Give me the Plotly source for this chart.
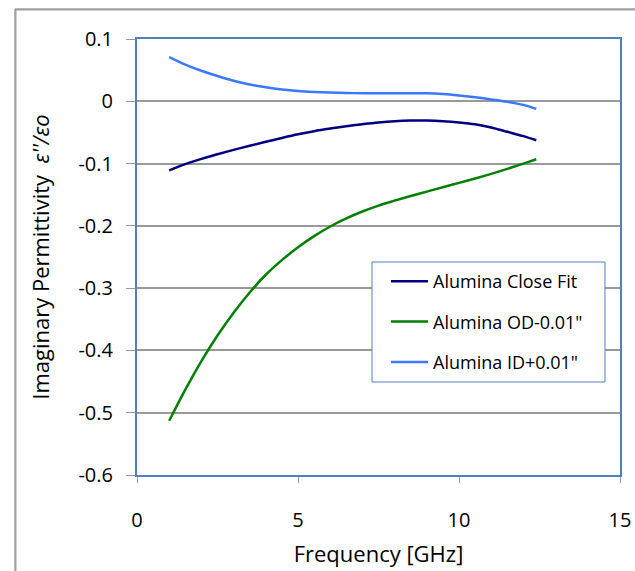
import plotly.graph_objects as go

freq = [1.0, 1.5, 2.0, 2.5, 3.0, 3.5, 4.0, 4.5, 5.0, 5.5, 6.0, 6.5, 7.0, 7.5,
        8.0, 8.5, 9.0, 9.5, 10.0, 10.5, 11.0, 11.5, 12.0, 12.4]

close_fit = [-0.111, -0.101, -0.0925, -0.085, -0.078, -0.0715, -0.065, -0.0588,
             -0.053, -0.048, -0.0438, -0.040, -0.0368, -0.034, -0.032, -0.031,
             -0.031, -0.032, -0.034, -0.037, -0.042, -0.049, -0.056, -0.0625]

od_minus = [-0.513, -0.463, -0.417, -0.376, -0.3395, -0.307, -0.2785, -0.255,
            -0.2345, -0.2165, -0.201, -0.188, -0.177, -0.1675, -0.1595, -0.152,
            -0.145, -0.138, -0.131, -0.124, -0.1165, -0.1085, -0.100, -0.093]

id_plus = [0.071, 0.059, 0.049, 0.0405, 0.033, 0.027, 0.0225, 0.019, 0.0165,
           0.015, 0.014, 0.0133, 0.013, 0.013, 0.013, 0.013, 0.0128, 0.0115,
           0.0092, 0.0063, 0.0030, -0.0008, -0.0058, -0.0122]

series_names = ["Alumina Close Fit", "Alumina OD-0.01\"", "Alumina ID+0.01\""]
series_colors = ["#000080", "#008000", "#3b78ff"]

x_ticks = [0, 5, 10, 15]
x_ticktext = ["0", "5", "10", "15"]
y_ticks = [0.1, 0.0, -0.1, -0.2, -0.3, -0.4, -0.5, -0.6]
y_ticktext = ["0.1", "0", "-0.1", "-0.2", "-0.3", "-0.4", "-0.5", "-0.6"]

FONT = "Open Sans, Liberation Sans, sans-serif"

fig = go.Figure()
for i, (vals, name, col) in enumerate(zip([close_fit, od_minus, id_plus], series_names, series_colors)):
    fig.add_trace(go.Scatter(x=freq, y=vals, mode="lines", name=name,
                             legendgroup=f"g{i}",
                             line=dict(color=col, width=2.5, shape="spline", smoothing=1)))

tick_font = dict(family=FONT, size=20, color="#000000")
title_font = dict(family=FONT, size=22, color="#000000")

# plot area in page pixels: left 137, right 620, top 39, bottom 475
def px_x(p):
    return (p - 137) / 483

def px_y(p):
    return (475 - p) / 436

fig.update_layout(
    width=635, height=571,
    margin=dict(l=137, r=15, t=39, b=96, autoexpand=False),
    paper_bgcolor="white", plot_bgcolor="white",
    showlegend=True,
    legend=dict(x=px_x(386), y=px_y(263), xanchor="left", yanchor="top",
                bgcolor="rgba(0,0,0,0)", borderwidth=0,
                itemwidth=37,
                font=dict(family=FONT, size=18, color="#000"),
                tracegroupgap=14),
    xaxis=dict(range=[0, 15], tickvals=x_ticks, ticktext=x_ticktext,
               automargin=False,
               showgrid=False, zeroline=False,
               showline=True, linecolor="#4f81bd", linewidth=2, mirror=True,
               ticks="outside", ticklen=6, tickcolor="#999999",
               ticklabelstandoff=20,
               tickfont=tick_font,
               title=dict(text="Frequency [GHz]", font=title_font, standoff=15)),
    yaxis=dict(range=[-0.6, 0.1], tickvals=y_ticks, ticktext=y_ticktext,
               automargin=False,
               showgrid=True, gridcolor="#9a9a9a", gridwidth=1.5, zeroline=False,
               showline=True, linecolor="#4f81bd", linewidth=2, mirror=True,
               ticks="outside", ticklen=9, tickcolor="#999999",
               ticklabelstandoff=9,
               tickfont=tick_font,
               title=dict(text="Imaginary Permittivity  <i>ε''/εo</i>", font=title_font, standoff=23)),
)

# outer chart border (left and top edges; the others fall outside the picture)
fig.add_shape(type="line", xref="paper", yref="paper",
              x0=px_x(15), x1=px_x(15), y0=px_y(571), y1=px_y(9),
              line=dict(color="#a0a0a0", width=1.5), layer="above")
fig.add_shape(type="line", xref="paper", yref="paper",
              x0=px_x(15), x1=px_x(635), y0=px_y(9), y1=px_y(9),
              line=dict(color="#a0a0a0", width=1.5), layer="above")
fig.add_annotation(xref="paper", yref="paper", x=px_x(15), y=px_y(9),
                   xanchor="left", yanchor="top", text=" ",
                   width=660, height=600, showarrow=False,
                   bordercolor="#a0a0a0", borderwidth=1.5, borderpad=0)

# legend box
fig.add_shape(type="rect", xref="paper", yref="paper",
              x0=px_x(372), x1=px_x(605), y0=px_y(382), y1=px_y(262),
              line=dict(color="#4f81bd", width=1), fillcolor="white", layer="above")

fig.write_html("out.html",
               config={"displayModeBar": False},
               post_script="document.body.style.margin='0';document.body.style.overflow='hidden';")
